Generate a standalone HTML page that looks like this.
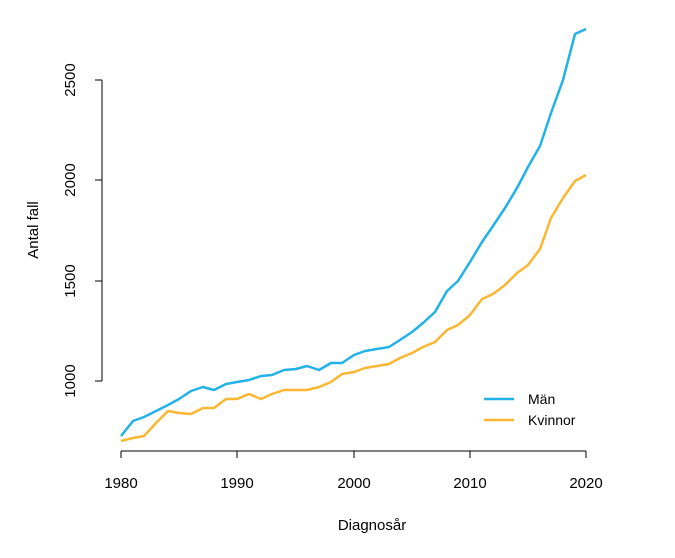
<!DOCTYPE html>
<html><head><meta charset="utf-8"><style>body{margin:0;background:#fff}svg{display:block}text{font-family:"Liberation Sans",sans-serif;fill:#000}</style></head>
<body>
<svg width="675" height="558" viewBox="0 0 675 558">
<g stroke="#000" stroke-width="1" fill="none">
<path d="M121,451H586 M121,451v7 M237,451v7 M354,451v7 M470,451v7 M586,451v7"/>
<path d="M102,80V381 M102,80h-7 M102,180h-7 M102,281h-7 M102,381h-7"/>
</g>
<g font-size="15" text-anchor="middle">
<text x="121" y="488">1980</text><text x="237" y="488">1990</text><text x="354" y="488">2000</text><text x="470" y="488">2010</text><text x="586" y="488">2020</text>
<text x="372" y="530">Diagnosår</text>
<text transform="translate(75,381) rotate(-90)">1000</text>
<text transform="translate(75,281) rotate(-90)">1500</text>
<text transform="translate(75,180) rotate(-90)">2000</text>
<text transform="translate(75,80) rotate(-90)">2500</text>
<text transform="translate(38,230) rotate(-90)">Antal fall</text>
</g>
<polyline fill="none" stroke="#22b2e8" stroke-width="2.5" stroke-linejoin="round" points="121,436 133,421 144,417 156,411 168,405 179,399 191,391 203,387 214,390 226,384 237,382 249,380 261,376 272,375 284,370 296,369 307,366 319,370 331,363 342,363 354,355 365,351 377,349 389,347 400,340 412,332 423,323 435,312 447,291 458,281 470,262 482,242 493,226 505,208 517,188 528,167 540,146 551,113 563,80 575,34 586,29"/>
<polyline fill="none" stroke="#fbb632" stroke-width="2.5" stroke-linejoin="round" points="121,441 133,438 144,436 156,423 168,411 179,413 191,414 203,408 214,408 226,399 237,399 249,394 261,399 272,394 284,390 296,390 307,390 319,387 331,382 342,374 354,372 365,368 377,366 389,364 400,358 412,353 423,347 435,342 447,330 458,325 470,315 482,299 493,294 505,285 517,273 528,265 540,249 551,218 563,198 575,181 586,175"/>
<path d="M484,399H514" stroke="#22b2e8" stroke-width="2.5"/>
<path d="M484,420H514" stroke="#fbb632" stroke-width="2.5"/>
<text x="528" y="404" font-size="14">Män</text>
<text x="528" y="425" font-size="14">Kvinnor</text>
</svg>
</body></html>
